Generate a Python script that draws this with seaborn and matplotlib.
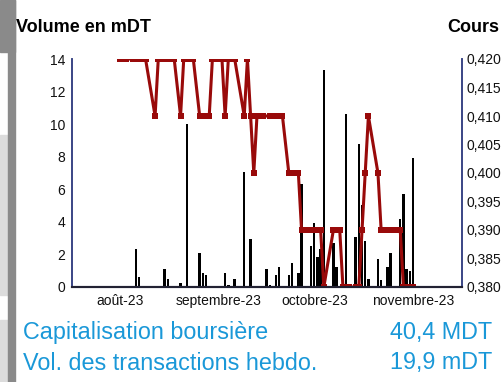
import matplotlib
matplotlib.use("Agg")
import matplotlib.pyplot as plt
import matplotlib.dates as mdates
from matplotlib.patches import Rectangle
import numpy as np
import pandas as pd
import seaborn as sns

# Daily traded volume (thousand dinars)
volume_dates = [
    "2023-08-06", "2023-08-07", "2023-08-15", "2023-08-16", "2023-08-20",
    "2023-08-22", "2023-08-26", "2023-08-27", "2023-08-28", "2023-09-03",
    "2023-09-04", "2023-09-06", "2023-09-09", "2023-09-11", "2023-09-16",
    "2023-09-17", "2023-09-19", "2023-09-20", "2023-09-23", "2023-09-24",
    "2023-09-26", "2023-09-27", "2023-09-30", "2023-10-01", "2023-10-02",
    "2023-10-03", "2023-10-04", "2023-10-07", "2023-10-08", "2023-10-11",
    "2023-10-14", "2023-10-15", "2023-10-16", "2023-10-17", "2023-10-18",
    "2023-10-21", "2023-10-22", "2023-10-24", "2023-10-25", "2023-10-28",
    "2023-10-29", "2023-10-30", "2023-10-31", "2023-11-01",
]
volume_values = [
    2.35, 0.6, 1.1, 0.5, 0.27,
    10.0, 2.1, 0.87, 0.75, 0.88,
    0.15, 0.5, 7.05, 2.97, 1.1,
    0.15, 0.74, 1.23, 0.74, 1.5,
    0.88, 6.3, 2.5, 3.95, 1.87,
    2.35, 13.35, 2.7, 1.25, 10.6,
    3.1, 8.76, 5.06, 2.84, 0.5,
    1.7, 0.4, 1.23, 2.1, 4.2,
    5.68, 1.1, 0.99, 7.92,
]

# Closing price (dinars)
price_dates = [
    "2023-08-01", "2023-08-02", "2023-08-03", "2023-08-05", "2023-08-06",
    "2023-08-07", "2023-08-08", "2023-08-09", "2023-08-12", "2023-08-13",
    "2023-08-14", "2023-08-15", "2023-08-16", "2023-08-17", "2023-08-18",
    "2023-08-20", "2023-08-21", "2023-08-22", "2023-08-23", "2023-08-24",
    "2023-08-26", "2023-08-27", "2023-08-28", "2023-08-29", "2023-08-30",
    "2023-08-31", "2023-09-01", "2023-09-02", "2023-09-03", "2023-09-04",
    "2023-09-05", "2023-09-06", "2023-09-09", "2023-09-10", "2023-09-11",
    "2023-09-12", "2023-09-13", "2023-09-14", "2023-09-15", "2023-09-17",
    "2023-09-18", "2023-09-19", "2023-09-20", "2023-09-21", "2023-09-23",
    "2023-09-24", "2023-09-25", "2023-09-26", "2023-09-27", "2023-09-28",
    "2023-09-30", "2023-10-01", "2023-10-02", "2023-10-03", "2023-10-04",
    "2023-10-07", "2023-10-08", "2023-10-09", "2023-10-10", "2023-10-11",
    "2023-10-12", "2023-10-14", "2023-10-15", "2023-10-16", "2023-10-17",
    "2023-10-18", "2023-10-21", "2023-10-22", "2023-10-23", "2023-10-24",
    "2023-10-26", "2023-10-27", "2023-10-28", "2023-10-29", "2023-10-30",
    "2023-10-31", "2023-11-01",
]
price_values = [
    0.420, 0.420, 0.420, 0.420, 0.420,
    0.420, 0.420, 0.420, 0.410, 0.420,
    0.420, 0.420, 0.420, 0.420, 0.420,
    0.410, 0.420, 0.420, 0.420, 0.420,
    0.410, 0.410, 0.410, 0.410, 0.420,
    0.420, 0.420, 0.420, 0.410, 0.420,
    0.420, 0.420, 0.410, 0.420, 0.410,
    0.400, 0.410, 0.410, 0.410, 0.410,
    0.410, 0.410, 0.410, 0.410, 0.400,
    0.400, 0.400, 0.400, 0.390, 0.390,
    0.390, 0.390, 0.390, 0.390, 0.380,
    0.390, 0.390, 0.390, 0.380, 0.380,
    0.380, 0.380, 0.380, 0.390, 0.400,
    0.410, 0.400, 0.390, 0.390, 0.390,
    0.390, 0.390, 0.390, 0.380, 0.380,
    0.380, 0.380,
]

month_starts = ["2023-08-01", "2023-09-01", "2023-10-01", "2023-11-01"]
month_labels = ["août-23", "septembre-23", "octobre-23", "novembre-23"]

left_ticks = [0, 2, 4, 6, 8, 10, 12, 14]
right_ticks = [0.380, 0.385, 0.390, 0.395, 0.400, 0.405, 0.410, 0.415, 0.420]
right_labels = ["0,380", "0,385", "0,390", "0,395", "0,400",
                "0,405", "0,410", "0,415", "0,420"]

caption_rows = ["Capitalisation boursière", "Vol. des transactions hebdo."]
caption_values = ["40,4 MDT", "19,9 mDT"]

sns.set_theme(style="white")
plt.rcParams["font.family"] = ["Liberation Sans", "DejaVu Sans"]

vol_df = pd.DataFrame({
    "x": mdates.date2num(pd.to_datetime(volume_dates)),
    "volume": volume_values,
})
price_df = pd.DataFrame({
    "x": mdates.date2num(pd.to_datetime(price_dates)),
    "cours": price_values,
})

W, H = 501, 382
fig = plt.figure(figsize=(W / 100, H / 100), dpi=100)
fig.patch.set_facecolor("white")

# page margin decoration on the left
def px_rect(x0, y0, x1, y1, color):
    fig.patches.append(Rectangle((x0 / W, 1 - y1 / H), (x1 - x0) / W, (y1 - y0) / H,
                                 transform=fig.transFigure, color=color, zorder=0))

px_rect(0, 0, 15, 52, "#8a8a8a")
px_rect(0, 135, 8, 295, "#dcdcdc")
px_rect(0, 320, 8, 382, "#dcdcdc")
px_rect(8, 0, 15, 382, "#8a8a8a")

ax_left, ax_right, ax_top, ax_bottom = 72, 462, 59, 287
ax = fig.add_axes([ax_left / W, 1 - ax_bottom / H,
                   (ax_right - ax_left) / W, (ax_bottom - ax_top) / H])
ax2 = ax.twinx()

sns.barplot(data=vol_df, x="x", y="volume", native_scale=True, color="black",
            width=0.75, errorbar=None, saturation=1, ax=ax)
for p in ax.patches:
    p.set_edgecolor("none")

sns.lineplot(data=price_df, x="x", y="cours", color="#990a0a", linewidth=2.2,
             marker="s", markersize=4.2, markeredgewidth=0, ax=ax2)

aug1 = mdates.date2num(pd.Timestamp("2023-08-01"))
ax.set_xlim(aug1 - 15.1, aug1 + 107.4)
ax.set_ylim(0, 14)
ax2.set_ylim(0.380, 0.420)

ax.set_xticks(mdates.date2num(pd.to_datetime(month_starts)))
ax.set_xticklabels(month_labels)
ax.set_yticks(left_ticks)
ax.set_yticklabels([str(t) for t in left_ticks])
ax2.set_yticks(right_ticks)
ax2.set_yticklabels(right_labels)

for a in (ax, ax2):
    a.set_xlabel("")
    a.set_ylabel("")
    a.grid(False)
    a.tick_params(length=0, labelsize=10, colors="#111111")
ax.tick_params(axis="y", pad=5)
ax.tick_params(axis="x", pad=5)
ax2.tick_params(axis="y", pad=3)
ax2.patch.set_visible(False)

for a in (ax, ax2):
    a.spines["top"].set_visible(False)
    a.spines["left"].set_color("#3a4585")
    a.spines["right"].set_color("#3a4585")
    a.spines["bottom"].set_color("#222233")
    a.spines["left"].set_linewidth(1.2)
    a.spines["right"].set_linewidth(1.2)
    a.spines["bottom"].set_linewidth(1.5)

fig.text(16 / W, 1 - 28 / H, "Volume en mDT", fontsize=13, fontweight="bold",
         va="center", ha="left", color="black")
fig.text(447 / W, 1 - 28 / H, "Cours", fontsize=13, fontweight="bold",
         va="center", ha="left", color="black")

blue = "#1a98d8"
for i, (lab, val) in enumerate(zip(caption_rows, caption_values)):
    yc = 333 + i * 30
    fig.text(23 / W, 1 - yc / H, lab, fontsize=16.8, color=blue, va="center", ha="left")
    fig.text(492 / W, 1 - yc / H, val, fontsize=16.8, color=blue, va="center", ha="right")

fig.savefig("out.png", dpi=100)
